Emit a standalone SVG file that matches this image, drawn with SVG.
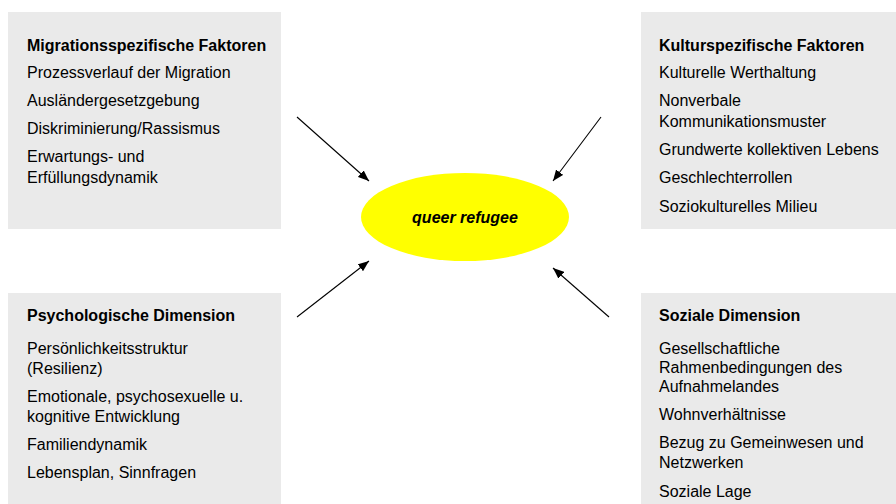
<svg xmlns="http://www.w3.org/2000/svg" width="896" height="504" viewBox="0 0 896 504">
<defs>
<style>
.box{fill:#eaeaea;stroke:none}
.t{font-family:"Liberation Sans",Arial,sans-serif;font-size:16px;fill:#000}
.h{font-weight:bold}
.c{font-family:"Liberation Sans",Arial,sans-serif;font-size:16px;font-weight:bold;font-style:italic;fill:#000}
.ln{stroke:#000;stroke-width:1.1;fill:none;marker-end:url(#ah)}
</style>
<marker id="ah" viewBox="0 0 10 8" refX="10" refY="4" markerWidth="11" markerHeight="9" markerUnits="userSpaceOnUse" orient="auto">
<path d="M0,0 L10,4 L0,8 Z" fill="#000"/>
</marker>
</defs>
<rect width="896" height="504" fill="#fff"/>
<g id="migration">
<rect class="box" x="8" y="12" width="273" height="217"/>
<text class="t h" x="27" y="51">Migrationsspezifische Faktoren</text>
<text class="t" x="27" y="78">Prozessverlauf der Migration</text>
<text class="t" x="27" y="106">Ausländergesetzgebung</text>
<text class="t" x="27" y="134">Diskriminierung/Rassismus</text>
<text class="t" x="27" y="162">Erwartungs- und</text>
<text class="t" x="27" y="183">Erfüllungsdynamik</text>
</g>
<g id="kultur">
<rect class="box" x="641" y="12" width="255" height="217"/>
<text class="t h" x="659" y="51">Kulturspezifische Faktoren</text>
<text class="t" x="659" y="78">Kulturelle Werthaltung</text>
<text class="t" x="659" y="106">Nonverbale</text>
<text class="t" x="659" y="127">Kommunikationsmuster</text>
<text class="t" x="659" y="155">Grundwerte kollektiven Lebens</text>
<text class="t" x="659" y="183">Geschlechterrollen</text>
<text class="t" x="659" y="212">Soziokulturelles Milieu</text>
</g>
<g id="psycho">
<rect class="box" x="8" y="293" width="273" height="211"/>
<text class="t h" x="27" y="321">Psychologische Dimension</text>
<text class="t" x="27" y="354">Persönlichkeitsstruktur</text>
<text class="t" x="27" y="374">(Resilienz)</text>
<text class="t" x="27" y="402">Emotionale, psychosexuelle u.</text>
<text class="t" x="27" y="422">kognitive Entwicklung</text>
<text class="t" x="27" y="450">Familiendynamik</text>
<text class="t" x="27" y="478">Lebensplan, Sinnfragen</text>
</g>
<g id="sozial">
<rect class="box" x="641" y="293" width="255" height="211"/>
<text class="t h" x="659" y="321">Soziale Dimension</text>
<text class="t" x="659" y="354">Gesellschaftliche</text>
<text class="t" x="659" y="373">Rahmenbedingungen des</text>
<text class="t" x="659" y="392">Aufnahmelandes</text>
<text class="t" x="659" y="420">Wohnverhältnisse</text>
<text class="t" x="659" y="448">Bezug zu Gemeinwesen und</text>
<text class="t" x="659" y="468">Netzwerken</text>
<text class="t" x="659" y="497">Soziale Lage</text>
</g>
<g id="center">
<ellipse cx="465" cy="217" rx="104" ry="44" fill="#ffff00"/>
<text class="c" x="465" y="223" text-anchor="middle">queer refugee</text>
</g>
<g id="connectors">
<line class="ln" x1="297" y1="117" x2="369" y2="181"/>
<line class="ln" x1="601" y1="117" x2="553" y2="181"/>
<line class="ln" x1="297" y1="317" x2="369" y2="261"/>
<line class="ln" x1="609" y1="317" x2="553" y2="268"/>
</g>
</svg>
